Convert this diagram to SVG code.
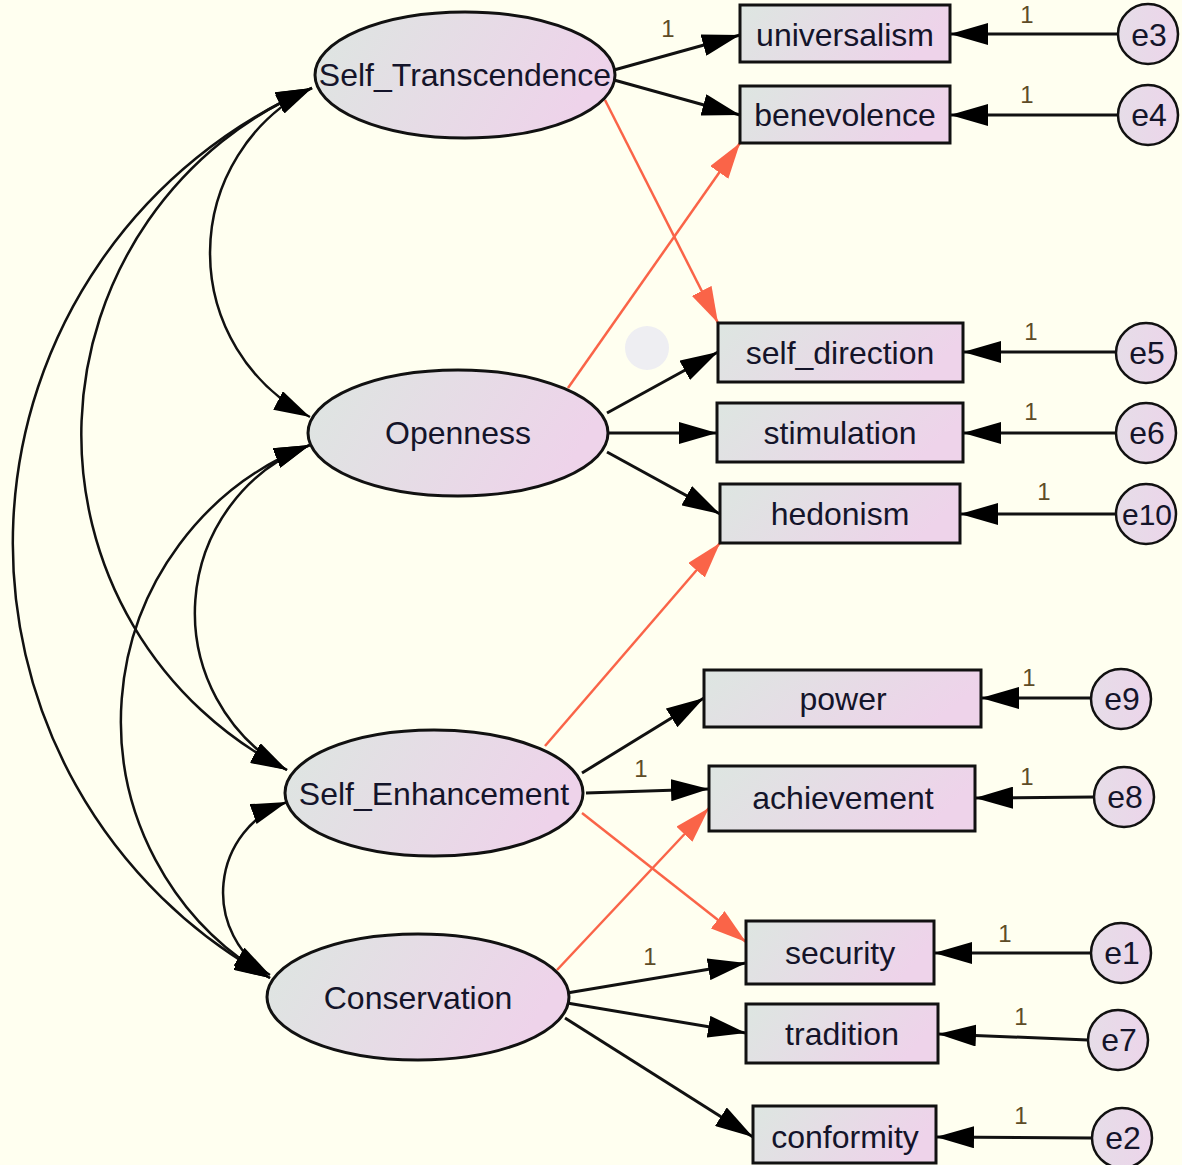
<svg xmlns="http://www.w3.org/2000/svg" width="1182" height="1165" viewBox="0 0 1182 1165">
  <style>
    .bg { fill: #fffff0; }
    .latent { fill: url(#fillGrad); stroke: #111; stroke-width: 3; }
    .obs { fill: url(#fillGrad); stroke: #111; stroke-width: 3; }
    .err { fill: url(#errGrad); stroke: #111; stroke-width: 2.5; }
    .lbl { font-family: "Liberation Sans", Arial, sans-serif; font-size: 32px; fill: #14142a; text-anchor: middle; }
    .one { font-family: "Liberation Sans", Arial, sans-serif; font-size: 24px; fill: #5e4c26; text-anchor: middle; }
    .path { fill: none; stroke: #111; stroke-width: 3; marker-end: url(#ah); }
    .cross { fill: none; stroke: #fa6448; stroke-width: 2.5; marker-end: url(#ahRed); }
    .cov { fill: none; stroke: #111; stroke-width: 2.5; marker-start: url(#ahCov); marker-end: url(#ahCov); }
  </style>
  <defs>
    <linearGradient id="fillGrad" x1="0" y1="0" x2="1" y2="0.25">
      <stop offset="0" stop-color="#dde6e1"/>
      <stop offset="1" stop-color="#eed3ea"/>
    </linearGradient>
    <linearGradient id="errGrad" x1="0" y1="0" x2="1" y2="0">
      <stop offset="0" stop-color="#e6dde8"/>
      <stop offset="1" stop-color="#ecd5ea"/>
    </linearGradient>
    <marker id="ah" viewBox="0 0 38 22" refX="38" refY="11" markerWidth="38" markerHeight="22" markerUnits="userSpaceOnUse" orient="auto-start-reverse">
      <path d="M0,0 L38,11 L0,22 Z" fill="#000"/>
    </marker>
    <marker id="ahRed" viewBox="0 0 36 22" refX="36" refY="11" markerWidth="36" markerHeight="22" markerUnits="userSpaceOnUse" orient="auto-start-reverse">
      <path d="M0,0 L36,11 L0,22 Z" fill="#fa6448"/>
    </marker>
    <marker id="ahCov" viewBox="0 0 36 21" refX="36" refY="10.5" markerWidth="36" markerHeight="21" markerUnits="userSpaceOnUse" orient="auto-start-reverse">
      <path d="M0,0 L36,10.5 L0,21 Z" fill="#000"/>
    </marker>
  </defs>

  <rect class="bg" x="0" y="0" width="1182" height="1165"/>

  <!-- stray selection mark -->
  <ellipse cx="647" cy="348" rx="22" ry="22" fill="#eeeef2"/>

  <g id="connectors">
    <!-- covariances between latent factors -->
    <path class="cov" d="M312,88 A184.5,184.5 0 0 0 310,417"/>
    <path class="cov" d="M312,88 A376,376 0 0 0 287,770"/>
    <path class="cov" d="M312,88 A496,496 0 0 0 270,978"/>
    <path class="cov" d="M310,445 A180,180 0 0 0 287,770"/>
    <path class="cov" d="M310,445 A296,296 0 0 0 270,978"/>
    <path class="cov" d="M287,802 A96,96 0 0 0 270,975"/>

    <!-- factor loadings -->
    <line class="path" x1="614" y1="70" x2="740" y2="35"/>
    <line class="path" x1="614" y1="80" x2="740" y2="115"/>
    <line class="path" x1="607" y1="413" x2="718" y2="352"/>
    <line class="path" x1="609" y1="433" x2="717" y2="433"/>
    <line class="path" x1="607" y1="452" x2="720" y2="514"/>
    <line class="path" x1="582" y1="773" x2="704" y2="698"/>
    <line class="path" x1="586" y1="793" x2="709" y2="789"/>
    <line class="path" x1="567" y1="993" x2="746" y2="963"/>
    <line class="path" x1="567" y1="1003" x2="746" y2="1033"/>
    <line class="path" x1="565" y1="1018" x2="753" y2="1137"/>

    <!-- cross loadings -->
    <line class="cross" x1="605" y1="100" x2="718" y2="323"/>
    <line class="cross" x1="568" y1="388" x2="740" y2="143"/>
    <line class="cross" x1="545" y1="746" x2="720" y2="543"/>
    <line class="cross" x1="582" y1="813" x2="746" y2="942"/>
    <line class="cross" x1="557" y1="970" x2="709" y2="808"/>

    <!-- error terms -->
    <line class="path" x1="1118" y1="34" x2="950" y2="34"/>
    <line class="path" x1="1118" y1="115" x2="950" y2="115"/>
    <line class="path" x1="1116" y1="352" x2="963" y2="352"/>
    <line class="path" x1="1116" y1="433" x2="963" y2="433"/>
    <line class="path" x1="1116" y1="514" x2="960" y2="514"/>
    <line class="path" x1="1091" y1="698" x2="981" y2="698"/>
    <line class="path" x1="1094" y1="797" x2="975" y2="798"/>
    <line class="path" x1="1091" y1="953" x2="934" y2="953"/>
    <line class="path" x1="1088" y1="1040" x2="938" y2="1034"/>
    <line class="path" x1="1092" y1="1138" x2="936" y2="1137"/>

    <!-- fixed weights -->
    <text class="one" x="668" y="37">1</text>
    <text class="one" x="1027" y="23">1</text>
    <text class="one" x="1027" y="103">1</text>
    <text class="one" x="1031" y="340">1</text>
    <text class="one" x="1031" y="420">1</text>
    <text class="one" x="1044" y="500">1</text>
    <text class="one" x="1029" y="686">1</text>
    <text class="one" x="641" y="777">1</text>
    <text class="one" x="1027" y="785">1</text>
    <text class="one" x="650" y="965">1</text>
    <text class="one" x="1005" y="942">1</text>
    <text class="one" x="1021" y="1025">1</text>
    <text class="one" x="1021" y="1124">1</text>
  </g>

  <!-- latent factors -->
  <g id="Self_Transcendence">
    <ellipse class="latent" cx="465" cy="75" rx="150" ry="63"/>
    <text class="lbl" x="465" y="86">Self_Transcendence</text>
  </g>
  <g id="Openness">
    <ellipse class="latent" cx="458" cy="433" rx="150" ry="63"/>
    <text class="lbl" x="458" y="444">Openness</text>
  </g>
  <g id="Self_Enhancement">
    <ellipse class="latent" cx="434" cy="793" rx="149" ry="63"/>
    <text class="lbl" x="434" y="805">Self_Enhancement</text>
  </g>
  <g id="Conservation">
    <ellipse class="latent" cx="418" cy="997" rx="151" ry="63"/>
    <text class="lbl" x="418" y="1009">Conservation</text>
  </g>

  <!-- observed values -->
  <g id="universalism">
    <rect class="obs" x="740" y="5" width="210" height="57"/>
    <text class="lbl" x="845" y="46">universalism</text>
  </g>
  <g id="benevolence">
    <rect class="obs" x="740" y="86" width="210" height="57"/>
    <text class="lbl" x="845" y="126">benevolence</text>
  </g>
  <g id="self_direction">
    <rect class="obs" x="718" y="323" width="245" height="59"/>
    <text class="lbl" x="840" y="364">self_direction</text>
  </g>
  <g id="stimulation">
    <rect class="obs" x="717" y="403" width="246" height="59"/>
    <text class="lbl" x="840" y="444">stimulation</text>
  </g>
  <g id="hedonism">
    <rect class="obs" x="720" y="484" width="240" height="59"/>
    <text class="lbl" x="840" y="525">hedonism</text>
  </g>
  <g id="power">
    <rect class="obs" x="704" y="670" width="277" height="57"/>
    <text class="lbl" x="843" y="710">power</text>
  </g>
  <g id="achievement">
    <rect class="obs" x="709" y="766" width="266" height="65"/>
    <text class="lbl" x="843" y="809">achievement</text>
  </g>
  <g id="security">
    <rect class="obs" x="746" y="921" width="188" height="63"/>
    <text class="lbl" x="840" y="964">security</text>
  </g>
  <g id="tradition">
    <rect class="obs" x="746" y="1004" width="192" height="59"/>
    <text class="lbl" x="842" y="1045">tradition</text>
  </g>
  <g id="conformity">
    <rect class="obs" x="753" y="1106" width="183" height="57"/>
    <text class="lbl" x="845" y="1148">conformity</text>
  </g>

  <!-- error terms -->
  <g id="e3">
    <circle class="err" cx="1148" cy="34" r="30"/>
    <text class="lbl" x="1149" y="46">e3</text>
  </g>
  <g id="e4">
    <circle class="err" cx="1148" cy="115" r="30"/>
    <text class="lbl" x="1149" y="126">e4</text>
  </g>
  <g id="e5">
    <circle class="err" cx="1146" cy="353" r="30"/>
    <text class="lbl" x="1147" y="364">e5</text>
  </g>
  <g id="e6">
    <circle class="err" cx="1146" cy="433" r="30"/>
    <text class="lbl" x="1147" y="444">e6</text>
  </g>
  <g id="e10">
    <circle class="err" cx="1146" cy="514" r="30"/>
    <text class="lbl" x="1147" y="525" style="font-size:30px">e10</text>
  </g>
  <g id="e9">
    <circle class="err" cx="1121" cy="699" r="30"/>
    <text class="lbl" x="1122" y="710">e9</text>
  </g>
  <g id="e8">
    <circle class="err" cx="1124" cy="797" r="30"/>
    <text class="lbl" x="1125" y="808">e8</text>
  </g>
  <g id="e1">
    <circle class="err" cx="1121" cy="953" r="30"/>
    <text class="lbl" x="1122" y="964">e1</text>
  </g>
  <g id="e7">
    <circle class="err" cx="1118" cy="1040" r="30"/>
    <text class="lbl" x="1119" y="1051">e7</text>
  </g>
  <g id="e2">
    <circle class="err" cx="1122" cy="1138" r="30"/>
    <text class="lbl" x="1123" y="1149">e2</text>
  </g>
</svg>
